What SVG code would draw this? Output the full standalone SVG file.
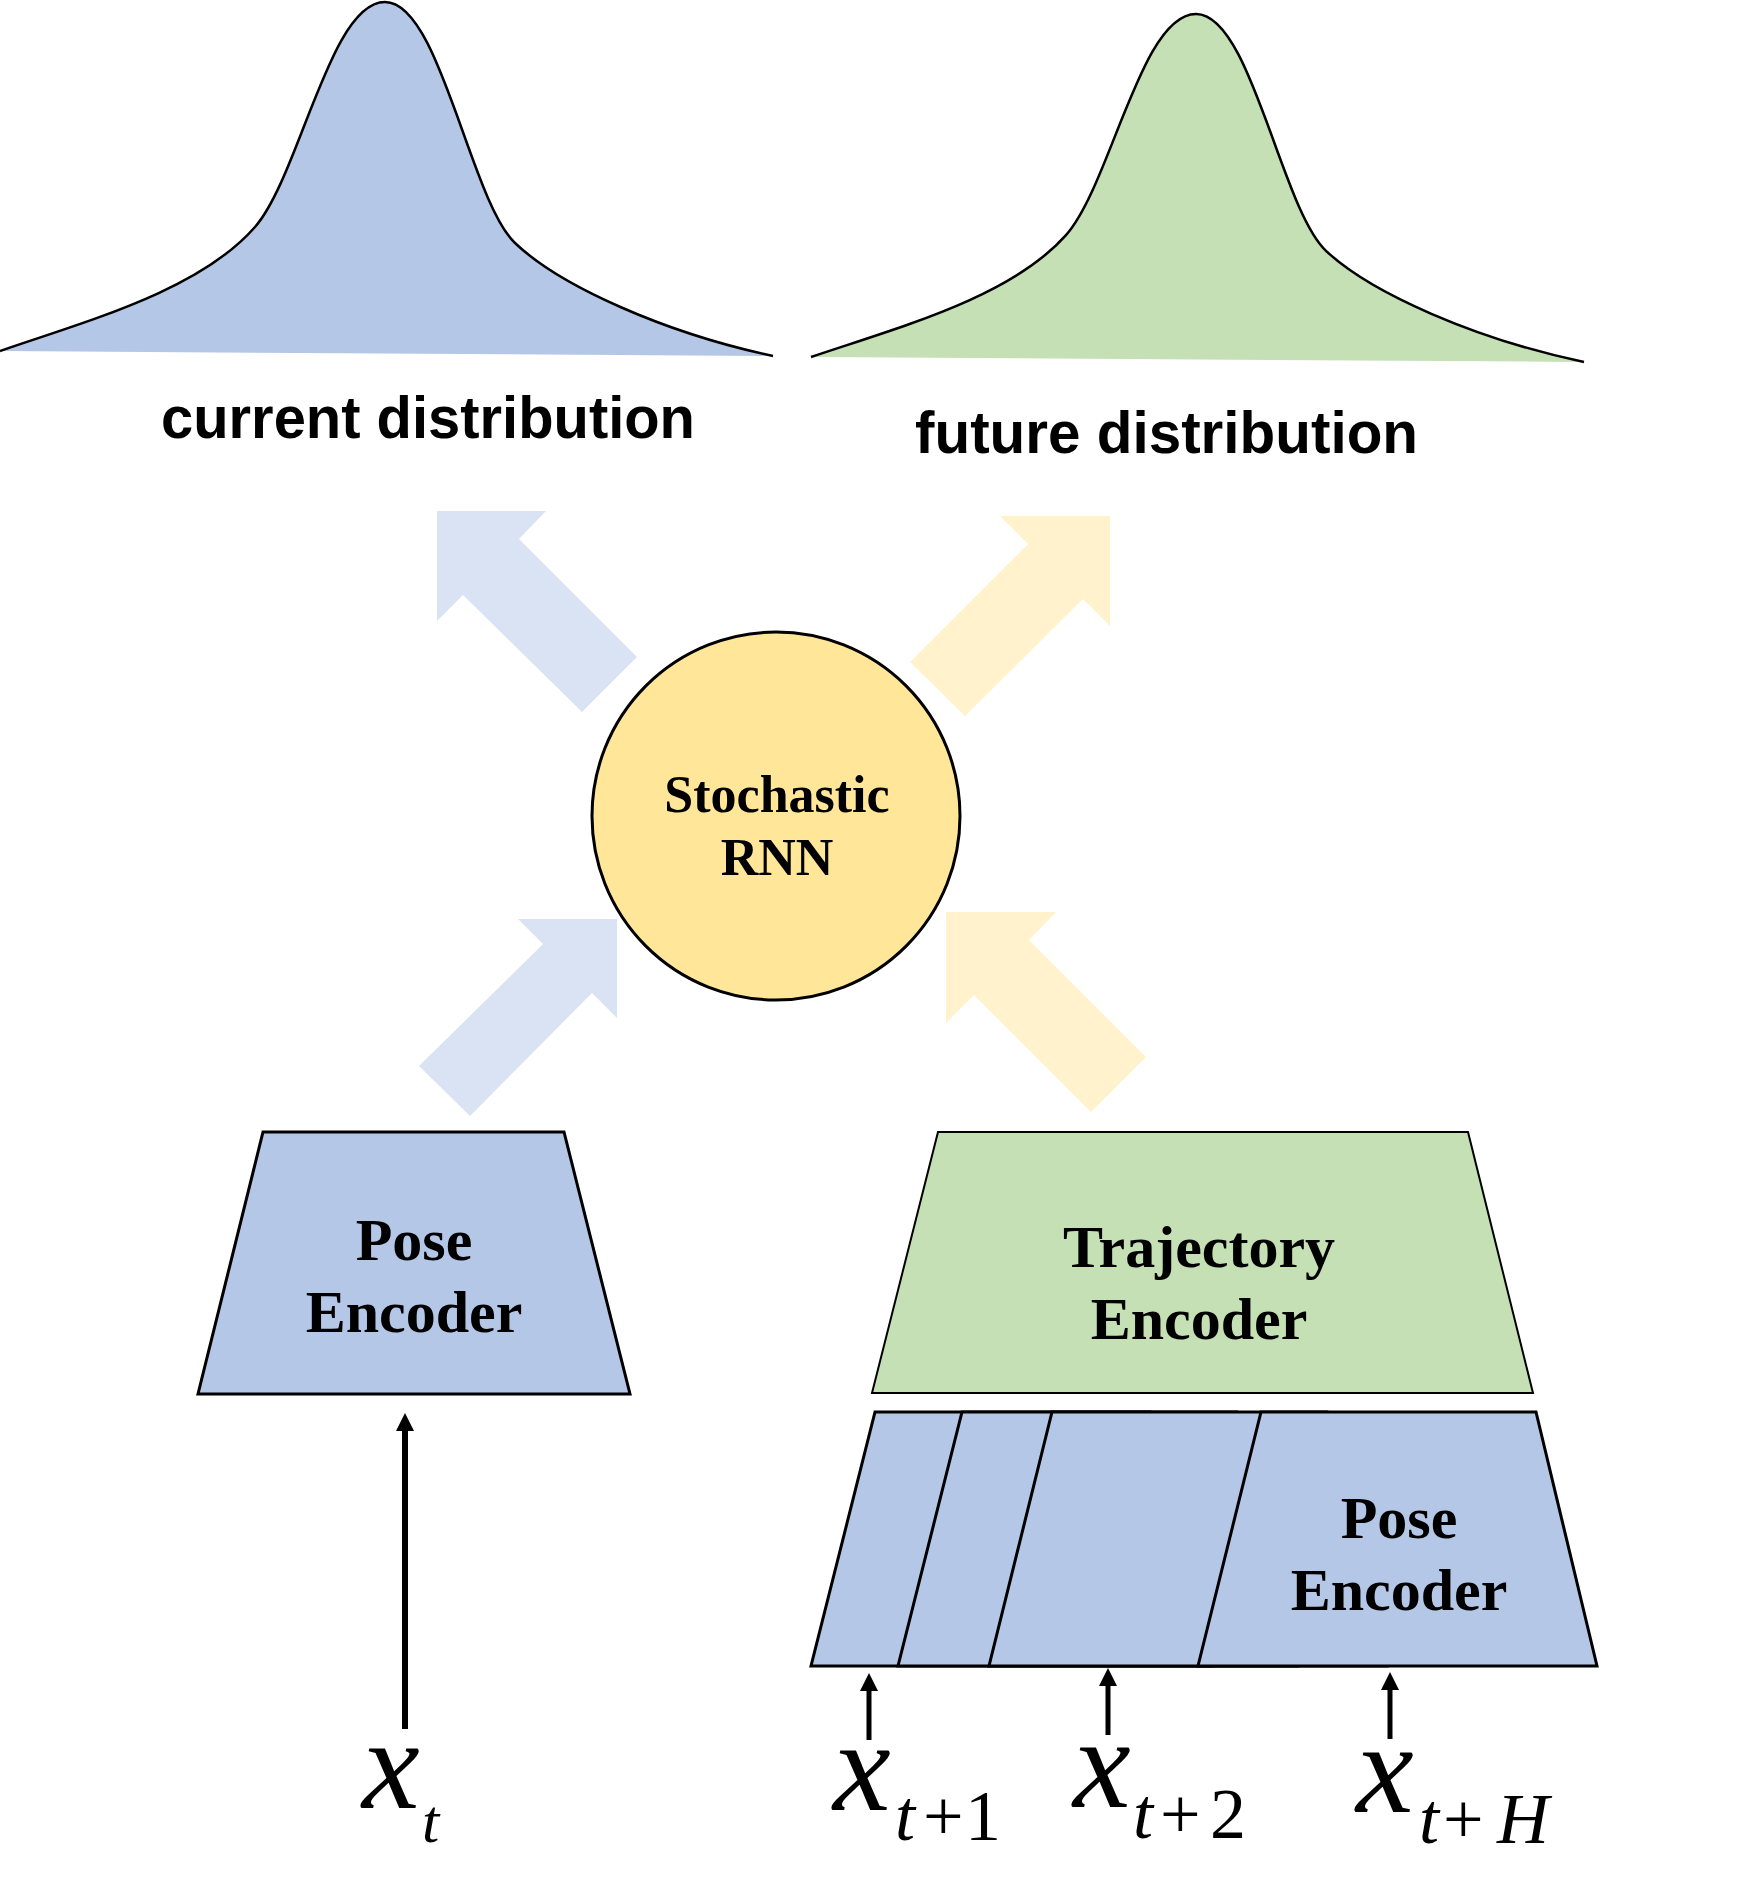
<svg xmlns="http://www.w3.org/2000/svg" width="1759" height="1877" viewBox="0 0 1759 1877">
<style>
.bellc{fill:none;stroke:#000;stroke-width:2.5}
.blue{fill:#B4C7E7}
.green{fill:#C5E0B4}
.enc{stroke:#000;stroke-width:3;stroke-linejoin:miter}
.lbl{font-family:"Liberation Serif","Times New Roman",serif;font-weight:bold;font-size:60px;fill:#000;text-anchor:middle}
.dist{font-family:"Liberation Sans",Arial,sans-serif;font-weight:bold;font-size:60px;fill:#000}
.math{font-family:"Liberation Serif","Times New Roman",serif;fill:#000}
.barrow{fill:#DAE3F3}
.yarrow{fill:#FFF2CC}
.conn{stroke:#000;fill:none}
</style>
<defs>
<path id="bellShape" d="M0,351 C90,320 200,290 255,227 C300,175 330,2 385,2 C440,2 470,200 515,243 C560,286 665,333 773,356"/>
<marker id="ah" viewBox="0 0 18 18" markerWidth="18" markerHeight="18" refX="0" refY="9" orient="auto" markerUnits="userSpaceOnUse">
<path d="M0,0 L18,9 L0,18 z" fill="#000"/>
</marker>
</defs>

<g id="current-distribution">
<path class="blue" d="M0,351 C90,320 200,290 255,227 C300,175 330,2 385,2 C440,2 470,200 515,243 C560,286 665,333 773,356 Z"/>
<use href="#bellShape" class="bellc"/>
<text class="dist" x="161" y="438" textLength="534" lengthAdjust="spacingAndGlyphs">current distribution</text>
</g>

<g id="future-distribution">
<g transform="translate(811,12) scale(1,0.983)">
<path class="green" d="M0,351 C90,320 200,290 255,227 C300,175 330,2 385,2 C440,2 470,200 515,243 C560,286 665,333 773,356 Z"/>
<use href="#bellShape" class="bellc" style="stroke-width:2.5"/>
</g>
<text class="dist" x="915" y="453" textLength="503" lengthAdjust="spacingAndGlyphs">future distribution</text>
</g>

<g id="connectors">
<polygon class="barrow" points="437,511 546,511 519,539 637,657 582,712 463,595 437,621"/>
<polygon class="yarrow" points="1110,516 1000,516 1028,544 910,662 965,716 1083,599 1110,626"/>
<polygon class="barrow" points="617,919 518,919 543,944 419,1066 470,1116 592,993 617,1018"/>
<polygon class="yarrow" points="946,912 1056,912 1029,940 1146,1057 1091,1112 974,995 946,1023"/>
<line class="conn" x1="405" y1="1729" x2="405" y2="1431" stroke-width="6" marker-end="url(#ah)"/>
<line class="conn" x1="869" y1="1740" x2="869" y2="1691" stroke-width="5" marker-end="url(#ah)"/>
<line class="conn" x1="1108" y1="1735" x2="1108" y2="1686" stroke-width="5" marker-end="url(#ah)"/>
<line class="conn" x1="1390" y1="1739" x2="1390" y2="1690" stroke-width="5" marker-end="url(#ah)"/>
</g>

<g id="stochastic-rnn">
<circle cx="776" cy="816" r="184" fill="#FFE699" stroke="#000" stroke-width="3"/>
<text class="lbl" x="777" y="812" style="font-size:52px">Stochastic</text>
<text class="lbl" x="777" y="875" style="font-size:52px">RNN</text>
</g>

<g id="pose-encoder-current">
<polygon class="blue enc" points="263,1132 564,1132 630,1394 198,1394"/>
<text class="lbl" x="414" y="1260">Pose</text>
<text class="lbl" x="414" y="1332">Encoder</text>
</g>

<g id="trajectory-encoder">
<polygon class="green enc" style="stroke-width:2" points="938,1132 1468,1132 1533,1393 872,1393"/>
<text class="lbl" x="1199" y="1267">Trajectory</text>
<text class="lbl" x="1199" y="1339">Encoder</text>
</g>

<g id="pose-encoder-stack">
<polygon class="blue enc" points="875,1412 1150,1412 1210,1666 811,1666"/>
<polygon class="blue enc" points="962,1412 1237,1412 1297,1666 898,1666"/>
<polygon class="blue enc" points="1052,1412 1327,1412 1387,1666 989,1666"/>
<polygon class="blue enc" points="1261,1412 1536,1412 1597,1666 1198,1666"/>
<text class="lbl" x="1399" y="1538">Pose</text>
<text class="lbl" x="1399" y="1610">Encoder</text>
</g>

<g id="input-xt">
<text class="math" x="362" y="1808" font-size="130" font-style="italic">x</text>
<text class="math" x="422" y="1842" font-size="62" font-style="italic">t</text>
</g>
<g id="input-xt1">
<text class="math" x="833" y="1810" font-size="130" font-style="italic">x</text>
<text class="math" y="1840" font-size="72"><tspan x="895" font-style="italic">t</tspan><tspan x="923">+</tspan><tspan x="965">1</tspan></text>
</g>
<g id="input-xt2">
<text class="math" x="1073" y="1807" font-size="130" font-style="italic">x</text>
<text class="math" y="1838" font-size="72"><tspan x="1133" font-style="italic">t</tspan><tspan x="1160">+</tspan><tspan x="1210">2</tspan></text>
</g>
<g id="input-xtH">
<text class="math" x="1356" y="1812" font-size="130" font-style="italic">x</text>
<text class="math" y="1843" font-size="72"><tspan x="1419" font-style="italic">t</tspan><tspan x="1443">+</tspan><tspan x="1497" font-style="italic">H</tspan></text>
</g>
</svg>
